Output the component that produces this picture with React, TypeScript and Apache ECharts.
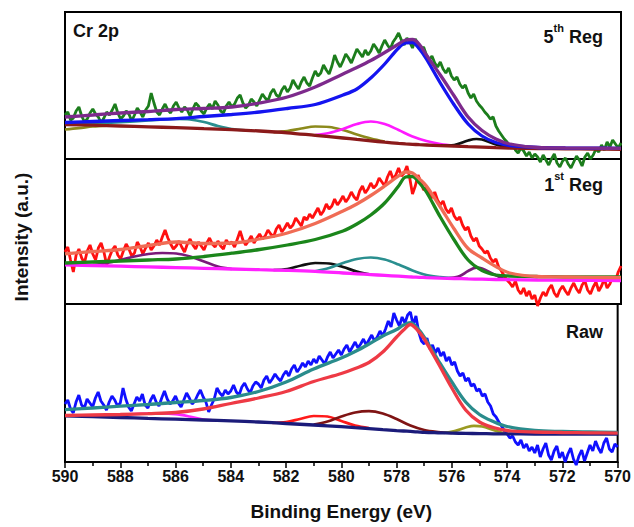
import React, { useEffect, useRef } from "react";
import * as echarts from "echarts";

// ---------- sampling grids (binding energy, eV) ----------
const RAW_E: number[] = Array.from({ length: 201 }, (_, i) => Math.round((590 - i * 0.1) * 10) / 10);
const FIT_E = [590, 589, 588, 587, 586, 585, 584, 583, 582, 581, 580, 579.5, 579, 578.5, 578, 577.75, 577.5, 577.25, 577, 576.5, 576, 575.5, 575, 574.5, 574, 573, 572, 571, 570];
const X_TICKS = [590, 588, 586, 584, 582, 580, 578, 576, 574, 572, 570];

// ---------- 5th Reg (top panel) ----------
const REG5_RAW = [
  44, 47, 39, 41, 48, 52, 43, 37, 40, 46,
  50, 45, 42, 36, 41, 47, 44, 49, 55, 46,
  40, 43, 48, 45, 38, 44, 51, 47, 42, 49,
  53, 66, 56, 47, 44, 50, 55, 49, 46, 53,
  57, 51, 47, 52, 49, 43, 50, 56, 53, 48,
  45, 51, 55, 50, 58, 54, 48, 46, 53, 57,
  52, 55, 61, 64, 56, 51, 54, 60, 57, 53,
  59, 65, 61, 58, 66, 70, 64, 62, 69, 73,
  67, 71, 79, 74, 70, 77, 82, 76, 73, 81,
  88, 83, 86, 94, 89, 85, 93, 104, 97, 92,
  98, 105, 101, 96, 103, 110, 106, 102, 109, 104,
  108, 115, 111, 106, 113, 119, 114, 110, 117, 121,
  126, 119, 114, 121, 117, 111, 120, 115, 109, 112,
  104, 99, 103, 96, 92, 97, 90, 86, 91, 83,
  79, 82, 75, 71, 74, 66, 61, 65, 58, 54,
  51, 47, 44, 40, 42, 33, 28, 24, 20, 17,
  13, 15, 9, 6, 11, 8, 3, 7, 1, 5,
  2, -3, 4, -1, -6, 0, 5, -4, -8, -2,
  1, -5, -9, -3, 3, -1, -7, 2, 6, 0,
  4, 10, 7, 14, 9, 17, 12, 19, 15, 11, 16,
];
const REG5_ENV = [42, 44, 46, 47.5, 49.5, 50.5, 52, 56, 62, 72, 85, 91.5, 98.5, 106.5, 115, 119, 119.5, 114.5, 104, 84, 63, 42, 28.5, 20, 15, 11.5, 11, 10.8, 10.7];
const REG5_MAIN = [36.5, 37.5, 38.5, 39.3, 40.3, 42.5, 44.5, 47, 50.5, 54.5, 64, 70, 81, 95, 111, 116, 116.5, 110, 100, 76, 54, 35, 23, 16.5, 13.5, 11.5, 11, 10.8, 10.7];
const REG5_BG = [34.5, 33.8, 33, 32.2, 31.3, 30.3, 29.3, 28, 26.2, 23.6, 21, 19.6, 18.2, 16.8, 15.6, 15.1, 14.7, 14.3, 14, 13.4, 12.9, 12.3, 11.9, 11.4, 11, 10.5, 10.2, 9.9, 9.7];
const REG5_P0_E = [590, 589.5, 589, 588.5];
const REG5_P0 = [29.5, 30.8, 32.5, 33.4];
const REG5_P1_E = [590, 589, 588, 587, 586, 585.5, 585, 584.5, 584, 583.5];
const REG5_P1 = [34.6, 35.5, 36.8, 38.5, 40, 39.5, 37, 33, 30, 28.7];
const REG5_P2_E = [582.5, 582, 581.5, 581, 580.5, 580, 579.5, 579, 578.5];
const REG5_P2 = [26.8, 28, 30.5, 32.5, 32, 29, 24.5, 20.5, 17.5];
const REG5_P3_E = [581, 580.5, 580, 579.5, 579, 578.5, 578, 577.5, 577, 576.5, 576];
const REG5_P3 = [24, 26, 30, 35, 37.5, 35, 29, 22.5, 18, 15, 13.2];
const REG5_P4_E = [576.5, 576, 575.5, 575.2, 575, 574.5, 574];
const REG5_P4 = [13.4, 14, 18.5, 20, 19.5, 14.5, 11.5];

// ---------- 1st Reg (middle panel) ----------
const REG1_RAW = [
  52, 57, 44, 32, 49, 55, 46, 41, 53, 59,
  50, 44, 56, 61, 52, 39, 47, 54, 58, 49,
  45, 53, 60, 55, 48, 51, 62, 57, 50, 56,
  61, 54, 58, 64, 59, 67, 74, 66, 60, 55,
  58, 63, 57, 52, 60, 65, 59, 55, 62, 58,
  54, 61, 66, 60, 57, 63, 58, 55, 64, 60,
  62, 57, 65, 73, 64, 59, 63, 68, 61, 66,
  70, 65, 68, 74, 70, 67, 75, 79, 72, 76,
  81, 76, 79, 86, 82, 78, 87, 84, 90, 86,
  91, 96, 89, 93, 100, 95, 98, 105, 99, 103,
  108, 102, 106, 112, 107, 104, 113, 118, 111, 115,
  121, 116, 119, 126, 122, 118, 127, 133, 125, 129,
  136, 128, 131, 138, 126, 110, 118, 129, 122, 114,
  117, 111, 106, 112, 104, 99, 103, 95, 91, 96,
  88, 84, 87, 79, 74, 77, 68, 63, 66, 58,
  55, 51, 53, 46, 42, 45, 37, 33, 28, 24,
  21, 17, 23, 14, 10, 16, 8, 13, 5, 9,
  -2, 6, 12, 8, 15, 19, 11, 7, 14, 18,
  13, 9, 16, 21, 15, 11, 19, 23, 14, 10,
  17, 22, 13, 18, 25, 16, 20, 27, 23, 32, 38,
];
const REG1_ENV = [50.2, 52.5, 54.5, 58.5, 62, 60.5, 61, 65, 71, 80.5, 93, 100, 108.5, 118, 128, 132, 131, 125, 118, 97, 75, 55.5, 46, 37.5, 31, 27.5, 27, 26.6, 26.4];
const REG1_MAIN = [41, 42, 43, 44, 45, 47.5, 50.8, 54.5, 59, 64.5, 73, 80, 89, 101, 118, 127, 127.5, 121, 112, 87, 64, 44, 33.5, 29, 28, 27.5, 27.2, 27.1, 27];
const REG1_BG = [39.2, 38.5, 37.8, 37.1, 36.4, 35.7, 35, 34.3, 33.6, 32.6, 31, 30.2, 29.4, 28.6, 27.8, 27.4, 27, 26.7, 26.4, 25.9, 25.5, 25.1, 24.8, 24.5, 24.3, 24, 23.8, 23.6, 23.5];
const REG1_P1_E = [589, 588.5, 588, 587.5, 587, 586.5, 586, 585.5, 585, 584.5, 584];
const REG1_P1 = [39, 41, 44, 47.5, 50, 51, 50.5, 47.5, 42.5, 37.5, 35];
const REG1_P2_E = [582.5, 582, 581.5, 581, 580.5, 580, 579.5, 579];
const REG1_P2 = [34, 35, 38.5, 41, 40.5, 37, 32.5, 29.5];
const REG1_P3_E = [581, 580.5, 580, 579.5, 579, 578.5, 578, 577.5, 577, 576.5, 576];
const REG1_P3 = [32.8, 36, 41, 45, 46.5, 44.5, 39.5, 33.5, 29, 26.8, 25.7];
const REG1_P4_E = [576.2, 575.8, 575.5, 575.2, 575, 574.6, 574.2];
const REG1_P4 = [25.7, 28, 33, 36.3, 35.5, 30, 25];

// ---------- Raw (bottom panel) ----------
const RAW_RAW = [
  58, 62, 53, 49, 60, 67, 57, 54, 63, 59,
  55, 64, 70, 61, 57, 52, 60, 66, 62, 56,
  59, 74, 63, 55, 51, 58, 65, 61, 68, 57,
  54, 62, 67, 60, 56, 64, 71, 63, 58, 61,
  66, 59, 55, 62, 69, 64, 58, 61, 67, 72,
  65, 60, 50, 57, 63, 74, 69, 66, 72, 68,
  71, 77, 70, 67, 75, 79, 73, 69, 76, 80,
  78, 74, 82, 86, 79, 83, 88, 84, 81, 87,
  91, 86, 93, 97, 90, 94, 99, 95, 101, 97,
  103, 99, 106, 102, 98, 105, 110, 104, 108, 112,
  107, 113, 117, 110, 115, 120, 114, 118, 123, 117,
  122, 127, 121, 125, 131, 126, 133, 141, 135, 149,
  142, 136, 145, 139, 147, 150, 137, 146, 130, 121,
  118, 124, 113, 117, 109, 114, 106, 110, 101, 105,
  97, 100, 91, 86, 89, 81, 84, 76, 78, 71,
  73, 66, 68, 60, 56, 48, 45, 40, 36, 31,
  28, 24, 26, 20, 17, 22, 14, 18, 11, 15,
  9, 17, 5, 13, 19, 7, 2, 11, 16, 4,
  10, 0, 8, 14, 3, -3, 6, 12, 1, 9,
  17, 11, 21, 14, 9, 19, 24, 13, 10, 18, 15,
];
const RAW_ENV = [52.3, 54, 55.8, 57.5, 59.5, 61.5, 64.5, 70.5, 80, 93, 104, 110.5, 118, 126, 132.5, 137, 139.4, 134, 124.8, 102, 80, 60, 47.5, 40.5, 35.5, 31.5, 30.5, 30, 29.6];
const RAW_MAIN = [46.5, 47, 47.5, 48.3, 49.5, 53, 58.5, 64, 70.5, 80.5, 88.5, 93.5, 99.5, 110, 125, 132, 137.5, 132, 123, 99, 74, 52, 40, 34.5, 31.5, 30, 29.5, 29.2, 28.9];
const RAW_BG = [46.1, 45.3, 44.5, 43.6, 42.8, 42, 41.1, 40, 38.5, 37, 35.3, 34.3, 33.3, 32.3, 31.4, 31, 30.6, 30.2, 29.6, 29.2, 28.9, 28.6, 28.4, 28.2, 28.1, 28, 27.9, 27.8, 27.8];
const RAW_P1_E = [589, 588.5, 588, 587.5, 587, 586.5, 586, 585.5, 585, 584.5];
const RAW_P1 = [45.5, 46.3, 47.2, 48, 48.5, 48.6, 47.8, 45.5, 42.5, 41.5];
const RAW_P2_E = [582.5, 582, 581.5, 581, 580.5, 580, 579.5, 579];
const RAW_P2 = [39, 40, 43, 46, 45.5, 41, 36.5, 34];
const RAW_P3_E = [581, 580.5, 580, 579.5, 579, 578.5, 578, 577.5, 577, 576.5, 576];
const RAW_P3 = [37.5, 40.5, 45.5, 49.5, 50.8, 48.5, 43, 36.5, 32, 30, 29];
const RAW_P4_E = [576.3, 575.9, 575.5, 575.2, 574.9, 574.5, 574.1];
const RAW_P4 = [29, 31, 34.5, 36.2, 35.5, 32, 28.5];

const FONT = "'Liberation Sans', Arial, Helvetica, sans-serif";
const PANEL_TOPS = [12, 159, 304];
const PANEL_HEIGHTS = [147, 145, 158];

const pairs = (E: number[], V: number[]) => E.map((e, i) => [e, V[i]]);

const ln = (g: number, E: number[], V: number[], color: string, width: number, smooth: boolean) => ({
  type: "line",
  xAxisIndex: g,
  yAxisIndex: g,
  data: pairs(E, V),
  showSymbol: false,
  symbol: "none",
  clip: false,
  smooth: smooth ? 0.35 : false,
  lineStyle: { color, width },
  silent: true,
});

function buildOption() {
  const DW = 2.8; // measured-data line width
  const FW = 3.3; // fitted-curve line width
  const PW = 2.7; // component-peak line width
  const series = [
    // top: 5th Reg
    ln(0, RAW_E, REG5_RAW, "#1c7d1c", DW, false),
    ln(0, REG5_P0_E, REG5_P0, "#8c8a1c", PW, true),
    ln(0, REG5_P1_E, REG5_P1, "#2a8f8f", PW, true),
    ln(0, REG5_P2_E, REG5_P2, "#8c8a1c", PW, true),
    ln(0, REG5_P3_E, REG5_P3, "#ff1aff", PW, true),
    ln(0, REG5_P4_E, REG5_P4, "#111111", PW, true),
    ln(0, FIT_E, REG5_BG, "#8b1a1a", FW, true),
    ln(0, FIT_E, REG5_MAIN, "#1414f0", FW, true),
    ln(0, FIT_E, REG5_ENV, "#7d2a8c", FW, true),
    // middle: 1st Reg
    ln(1, RAW_E, REG1_RAW, "#ff1010", DW, false),
    ln(1, REG1_P1_E, REG1_P1, "#7a1a7a", PW, true),
    ln(1, REG1_P2_E, REG1_P2, "#111111", PW, true),
    ln(1, REG1_P3_E, REG1_P3, "#2a8f8f", PW, true),
    ln(1, REG1_P4_E, REG1_P4, "#7a1a7a", PW, true),
    ln(1, FIT_E, REG1_BG, "#ff22ff", FW, true),
    ln(1, FIT_E, REG1_MAIN, "#1b861b", FW, true),
    ln(1, FIT_E, REG1_ENV, "#f06c55", FW, true),
    // bottom: Raw
    ln(2, RAW_E, RAW_RAW, "#1010ff", DW, false),
    ln(2, RAW_P1_E, RAW_P1, "#ff22ff", PW, true),
    ln(2, RAW_P2_E, RAW_P2, "#ff1a1a", PW, true),
    ln(2, RAW_P3_E, RAW_P3, "#7f1414", PW, true),
    ln(2, RAW_P4_E, RAW_P4, "#9a9a22", PW, true),
    ln(2, FIT_E, RAW_BG, "#1b1b7a", FW, true),
    ln(2, FIT_E, RAW_ENV, "#2a8c8c", FW, true),
    ln(2, FIT_E, RAW_MAIN, "#ee3a45", FW, true),
  ];

  const grid = PANEL_TOPS.map((top, i) => ({
    left: 65,
    top,
    width: 556,
    height: PANEL_HEIGHTS[i],
    show: true,
    borderColor: "#000",
    borderWidth: 2,
    backgroundColor: "transparent",
  }));

  const xAxis = [0, 1, 2].map((i) => ({
    gridIndex: i,
    type: "value",
    min: 570,
    max: 590,
    interval: 2,
    inverse: true,
    show: i === 2,
    axisLine: { show: true, lineStyle: { color: "#000", width: 2 } },
    axisTick: { show: true, length: 6, lineStyle: { color: "#000", width: 1.5 } },
    minorTick: { show: true, splitNumber: 2, length: 4, lineStyle: { color: "#000", width: 1.5 } },
    splitLine: { show: false },
    axisLabel: {
      fontSize: 16,
      fontWeight: "bold",
      fontFamily: FONT,
      color: "#111",
      margin: 6,
      formatter: (v: number) => (X_TICKS.includes(v) ? String(v) : ""),
    },
    name: i === 2 ? "Binding Energy (eV)" : "",
    nameLocation: "middle",
    nameGap: 40,
    nameTextStyle: { fontSize: 19, fontWeight: "bold", fontFamily: FONT, color: "#111" },
  }));

  const yAxis = [0, 1, 2].map((i) => ({
    gridIndex: i,
    type: "value",
    min: 0,
    max: PANEL_HEIGHTS[i],
    show: false,
    splitLine: { show: false },
  }));

  const labelRich = {
    n: { fontSize: 18, fontWeight: "bold", fontFamily: FONT, fill: "#111", color: "#111", lineHeight: 24, verticalAlign: "bottom" },
    s: { fontSize: 11, fontWeight: "bold", fontFamily: FONT, fill: "#111", color: "#111", lineHeight: 24, verticalAlign: "top" },
  };

  const graphic = [
    {
      type: "text",
      x: 21,
      y: 237,
      rotation: Math.PI / 2,
      style: {
        text: "Intensity (a.u.)",
        font: `bold 19px ${FONT}`,
        fill: "#111",
        textAlign: "center",
        textVerticalAlign: "middle",
        align: "center",
        verticalAlign: "middle",
      },
    },
    {
      type: "text",
      x: 73,
      y: 31,
      style: {
        text: "Cr 2p",
        font: `bold 18px ${FONT}`,
        fill: "#111",
        textAlign: "left",
        textVerticalAlign: "middle",
        align: "left",
        verticalAlign: "middle",
      },
    },
    {
      type: "text",
      x: 603,
      y: 34,
      style: {
        text: "{n|5}{s|th}{n| Reg}",
        rich: labelRich,
        textAlign: "right",
        textVerticalAlign: "middle",
        align: "right",
        verticalAlign: "middle",
      },
    },
    {
      type: "text",
      x: 603,
      y: 182,
      style: {
        text: "{n|1}{s|st}{n| Reg}",
        rich: labelRich,
        textAlign: "right",
        textVerticalAlign: "middle",
        align: "right",
        verticalAlign: "middle",
      },
    },
    {
      type: "text",
      x: 603,
      y: 332,
      style: {
        text: "Raw",
        font: `bold 18px ${FONT}`,
        fill: "#111",
        textAlign: "right",
        textVerticalAlign: "middle",
        align: "right",
        verticalAlign: "middle",
      },
    },
  ];

  return {
    animation: false,
    backgroundColor: "#ffffff",
    grid,
    xAxis,
    yAxis,
    series,
    graphic,
  };
}

export default function App() {
  const ref = useRef<HTMLDivElement | null>(null);
  useEffect(() => {
    if (!ref.current) return;
    const chart = echarts.init(ref.current, undefined, { renderer: "svg" });
    chart.setOption(buildOption() as any);
    return () => chart.dispose();
  }, []);
  return (
    <div
      ref={ref}
      style={{ position: "fixed", left: 0, top: 0, width: 634, height: 527, background: "#fff" }}
    />
  );
}
